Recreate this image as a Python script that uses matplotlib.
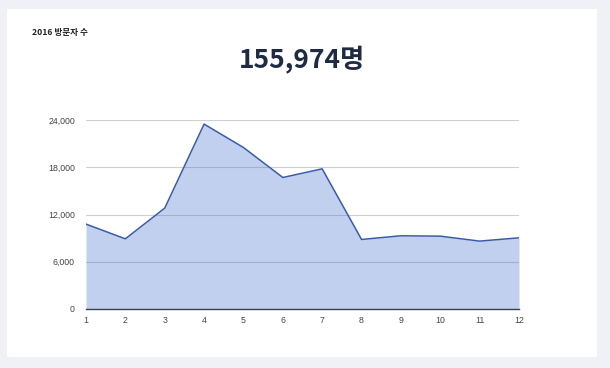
import matplotlib
matplotlib.use("Agg")
import matplotlib.pyplot as plt
from matplotlib.patches import Rectangle
from matplotlib.ticker import FuncFormatter

plt.rcParams['font.family'] = ['Noto Sans CJK KR', 'DejaVu Sans']

months = [1, 2, 3, 4, 5, 6, 7, 8, 9, 10, 11, 12]
visitors = [10780, 8910, 12810, 23480, 20510, 16700, 17800, 8830, 9300, 9250, 8620, 9040]
yticks = [0, 6000, 12000, 18000, 24000]
title = "2016 방문자 수"
total = "155,974명"

W, H = 610, 368
fig = plt.figure(figsize=(W / 100, H / 100), dpi=100)
fig.patch.set_facecolor('#eff1f7')

# white card behind everything
fig.patches.append(Rectangle((7 / W, 1 - 357 / H), 590 / W, 348 / H,
                             transform=fig.transFigure, facecolor='white',
                             edgecolor='none', zorder=-5))

fig.text(32 / W, 1 - 32 / H, title, fontsize=6.2, fontweight='bold',
         color='#222222', va='center', ha='left')
fig.text(302 / W, 1 - 60 / H, total, fontsize=19, fontweight='bold',
         color='#1f2b45', va='center', ha='center')

ax = fig.add_axes([86 / W, 1 - 309 / H, 433 / W, 189 / H])
ax.set_facecolor('none')
# translucent fill so the grid shows through, like the original
ax.fill_between(months, visitors, 0, color='#3366cc', alpha=0.3, lw=0, zorder=2)
ax.plot(months, visitors, color='#3a5ca6', lw=1.1, zorder=3)

ax.set_xlim(1, 12)
ax.set_ylim(0, 24000)
ax.set_xticks(months)
ax.set_yticks(yticks)
ax.yaxis.set_major_formatter(FuncFormatter(lambda v, p: f"{int(v):,}"))
for s in ['top', 'right', 'left']:
    ax.spines[s].set_visible(False)
ax.spines['bottom'].set_color('#3c4250')
ax.spines['bottom'].set_linewidth(1.0)
ax.spines['bottom'].set_zorder(4)
ax.grid(axis='y', color='#d0d0d0', lw=0.8, zorder=1)
ax.set_axisbelow(True)
ax.tick_params(length=0, labelsize=6.3, labelcolor='#444444')
ax.tick_params(axis='y', pad=8)
ax.tick_params(axis='x', pad=5)
for lab in ax.get_xticklabels() + ax.get_yticklabels():
    lab.set_family(['Liberation Sans', 'DejaVu Sans'])

fig.savefig('out.png', dpi=100, facecolor=fig.get_facecolor())
